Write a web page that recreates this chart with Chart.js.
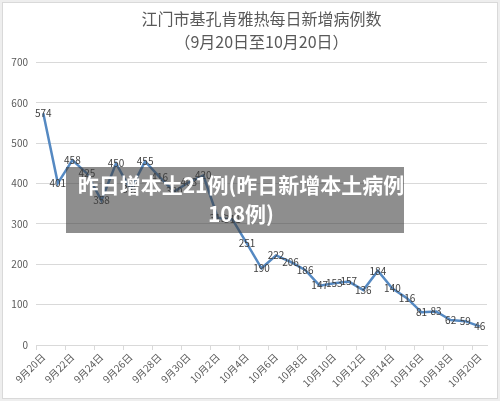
<!DOCTYPE html>
<html>
<head>
<meta charset="utf-8">
<script src="https://cdn.jsdelivr.net/npm/chart.js@4.4.0/dist/chart.umd.min.js"></script>
<style>
    body { margin: 0; background: #eeeeee; }
    #wrap { position: relative; width: 500px; height: 401px; }
    #frame { position: absolute; left: 2px; top: 2px; width: 494px; height: 395px; background: #fff; border: 1px solid #d9d9d9; }
    #myChart { position: absolute; left: 0; top: 0; }
    #box { position: absolute; left: 66px; top: 167px; width: 338px; height: 66px; background: rgba(60, 60, 60, 0.58); }
    #caption { position: absolute; left: 41px; top: 167px; width: 400px; text-align: center; white-space: nowrap;
               color: #fff; font: bold 21px 'Noto Sans CJK SC', sans-serif; line-height: 29px; padding-top: 3px; }
</style>
</head>
<body>
<div id="wrap">
    <div id="frame"></div>
    <canvas id="myChart" width="500" height="401"></canvas>
    <div id="box"></div>
    <div id="caption">昨日增本土21例(昨日新增本土病例<br>108例)</div>
</div>
<script>
const labels = ['9月20日', '9月21日', '9月22日', '9月23日', '9月24日', '9月25日', '9月26日', '9月27日', '9月28日', '9月29日', '9月30日',
    '10月1日', '10月2日', '10月3日', '10月4日', '10月5日', '10月6日', '10月7日', '10月8日', '10月9日', '10月10日',
    '10月11日', '10月12日', '10月13日', '10月14日', '10月15日', '10月16日', '10月17日', '10月18日', '10月19日', '10月20日'];

const cases = [574, 401, 458, 425, 358, 450, 385, 455, 416, 380, 403,
    420, 315, 311, 251, 190, 222, 206, 186, 147, 153,
    157, 136, 184, 140, 116, 81, 83, 62, 59, 46];

const titleText = '江门市基孔肯雅热每日新增病例数';
const subtitleText = '（9月20日至10月20日）';

window.onload = function () {
    const ctx = document.getElementById('myChart').getContext('2d');
    const fontFamily = "'Noto Sans CJK SC', 'Liberation Sans', sans-serif";

    // valores encima de cada punto, centrados como en Excel
    const valueLabels = {
        id: 'valueLabels',
        afterDatasetsDraw(chart) {
            const c = chart.ctx;
            const meta = chart.getDatasetMeta(0);
            c.save();
            c.font = '10px ' + fontFamily;
            c.fillStyle = '#404040';
            c.textAlign = 'center';
            c.textBaseline = 'middle';
            meta.data.forEach(function (pt, i) {
                c.fillText(String(cases[i]), pt.x, pt.y);
            });
            c.restore();
        }
    };

    const config = {
        type: 'line',
        data: {
            labels: labels,
            datasets: [{
                data: cases,
                borderColor: '#5589c2',
                borderWidth: 2.5,
                pointRadius: 0,
                tension: 0,
                fill: false
            }]
        },
        options: {
            responsive: false,
            animation: false,
            layout: { padding: { left: 0, right: 13, top: 0, bottom: 0 } },
            plugins: {
                legend: { display: false },
                tooltip: { enabled: false },
                title: {
                    display: true,
                    fullSize: false,
                    text: titleText,
                    color: '#595959',
                    font: { size: 16, weight: 'normal', family: fontFamily },
                    padding: { top: 9, bottom: 3 }
                },
                subtitle: {
                    display: true,
                    fullSize: false,
                    text: subtitleText,
                    color: '#595959',
                    font: { size: 16, weight: 'normal', family: fontFamily },
                    padding: { top: 1, bottom: 11 }
                }
            },
            scales: {
                x: {
                    type: 'category',
                    offset: true,
                    grid: {
                        offset: true,
                        drawOnChartArea: false,
                        tickLength: 5,
                        color: function (c) { return c.index % 2 === 0 ? '#d9d9d9' : 'rgba(0,0,0,0)'; }
                    },
                    border: { color: '#d9d9d9' },
                    ticks: {
                        autoSkip: false,
                        minRotation: 45,
                        maxRotation: 45,
                        color: '#595959',
                        font: { size: 10, family: fontFamily },
                        padding: 1,
                        callback: function (v, i) { return i % 2 === 0 ? labels[i] : ''; }
                    },
                    afterFit: function (scale) { scale.height = 56; }
                },
                y: {
                    min: 0,
                    max: 700,
                    grid: { color: '#d9d9d9', drawTicks: false },
                    border: { display: false },
                    ticks: {
                        stepSize: 100,
                        color: '#595959',
                        font: { size: 10, family: fontFamily },
                        padding: 8
                    },
                    afterFit: function (scale) { scale.width = 36; }
                }
            }
        },
        plugins: [valueLabels]
    };

    const myChart = new Chart(ctx, config);
};
</script>
</body>
</html>
